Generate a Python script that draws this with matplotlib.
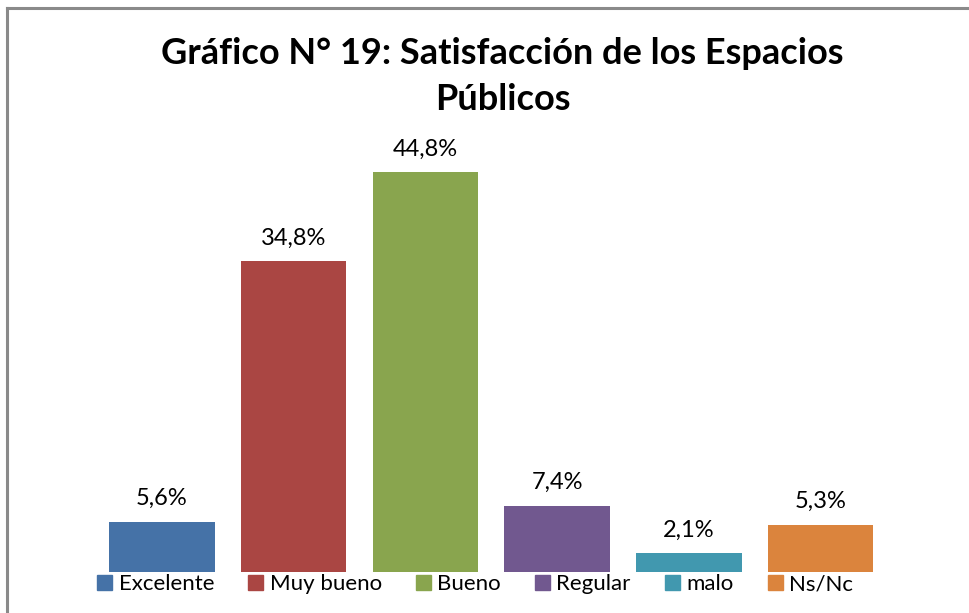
import matplotlib.pyplot as plt
from matplotlib.lines import Line2D
from matplotlib.patches import Patch

categories = ["Excelente", "Muy bueno", "Bueno", "Regular", "malo", "Ns/Nc"]
values = [5.6, 34.8, 44.8, 7.4, 2.1, 5.3]
labels = ["5,6%", "34,8%", "44,8%", "7,4%", "2,1%", "5,3%"]
colors = ["#4572a7", "#aa4643", "#89a54e", "#71588f", "#4198af", "#db843d"]

plt.rcParams['font.family'] = ['Lato', 'DejaVu Sans']

fig = plt.figure(figsize=(9.70, 6.13), dpi=100)
ax = fig.add_axes([0.099, 0.0669, 0.815, 0.728])

x = range(len(values))
ax.bar(x, values, width=0.8, color=colors)
for i, v in enumerate(values):
    ax.text(i, v + 2.6, labels[i], ha='center', va='center', fontsize=17)

ax.set_xlim(-0.5, len(values) - 0.5)
ax.set_ylim(0, 50)
ax.axis('off')

fig.text(0.518, 0.94, "Gráfico N° 19: Satisfacción de los Espacios\nPúblicos",
         ha='center', va='top', fontsize=26, fontweight='bold', linespacing=1.5)

handles = [Patch(color=c) for c in colors]
fig.legend(handles, categories, loc='center', bbox_to_anchor=(0.49, 0.047), ncol=6,
           frameon=False, fontsize=16, handlelength=0.65, handleheight=0.65,
           handletextpad=0.3, columnspacing=1.55)

# chart frame (left and top edge)
fig.add_artist(Line2D([0.0072, 0.0072], [0.0, 0.987], color='#8a8a8a', lw=2.2))
fig.add_artist(Line2D([0.0072, 1.0], [0.987, 0.987], color='#8a8a8a', lw=2.2))

fig.savefig("out.png", dpi=100, facecolor='white')
